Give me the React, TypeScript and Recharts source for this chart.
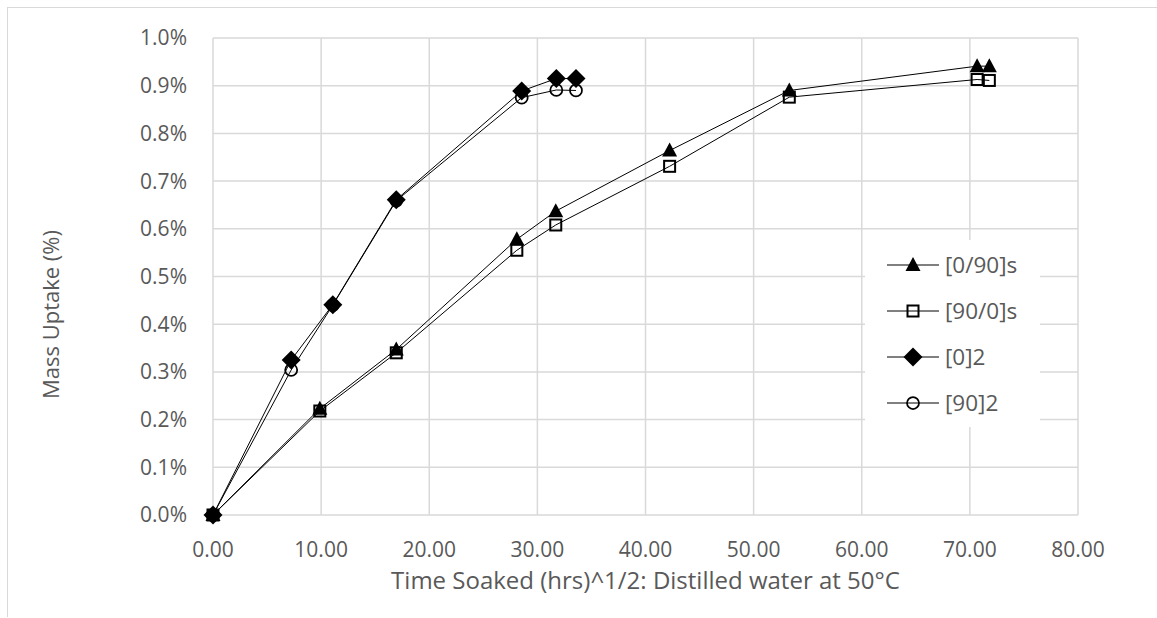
import React from 'react';
import { ScatterChart, Scatter, XAxis, YAxis, CartesianGrid, Legend, Label } from 'recharts';

// Laminate series time points (hrs^1/2)
const timeLaminate = [0, 9.88, 16.95, 28.1, 31.7, 42.23, 53.3, 70.67, 71.8];
const uptake090s = [0, 0.223, 0.347, 0.578, 0.637, 0.764, 0.89, 0.941, 0.941];
const uptake900s = [0, 0.218, 0.34, 0.555, 0.608, 0.731, 0.876, 0.913, 0.911];

// Unidirectional series time points (hrs^1/2)
const timeUni = [0, 7.23, 11.08, 16.95, 28.55, 31.75, 33.57];
const uptake02 = [0, 0.325, 0.441, 0.661, 0.889, 0.915, 0.915];
const uptake902 = [0, 0.304, 0.44, 0.659, 0.875, 0.891, 0.89];

const seriesNames = ['[0/90]s', '[90/0]s', '[0]2', '[90]2'];
const xTicks = [0, 10, 20, 30, 40, 50, 60, 70, 80];
const yTicks = [0, 0.1, 0.2, 0.3, 0.4, 0.5, 0.6, 0.7, 0.8, 0.9, 1.0];

const xTitle = 'Time Soaked (hrs)^1/2: Distilled water at 50°C';
const yTitle = 'Mass Uptake (%)';

const FONT = '"Open Sans", "DejaVu Sans", sans-serif';
const TEXT = '#595959';
const GRID = '#d9d9d9';

const toPoints = (xs: number[], ys: number[]) => xs.map((x, i) => ({ x, y: ys[i] }));

const drawTriangle = (cx: number, cy: number) => (
  <polygon points={`${cx},${cy - 8} ${cx - 7.5},${cy + 6} ${cx + 7.5},${cy + 6}`} fill="#000" />
);
const drawSquare = (cx: number, cy: number) => (
  <rect x={cx - 5.5} y={cy - 5.5} width={11} height={11} fill="none" stroke="#000" strokeWidth={2} />
);
const drawDiamond = (cx: number, cy: number) => (
  <polygon points={`${cx},${cy - 9.5} ${cx + 9.5},${cy} ${cx},${cy + 9.5} ${cx - 9.5},${cy}`} fill="#000" />
);
const drawCircle = (cx: number, cy: number) => (
  <circle cx={cx} cy={cy} r={6} fill="none" stroke="#000" strokeWidth={1.75} />
);

const markers = [drawTriangle, drawSquare, drawDiamond, drawCircle];

const series = [
  { name: seriesNames[0], data: toPoints(timeLaminate, uptake090s), marker: drawTriangle },
  { name: seriesNames[1], data: toPoints(timeLaminate, uptake900s), marker: drawSquare },
  { name: seriesNames[2], data: toPoints(timeUni, uptake02), marker: drawDiamond },
  { name: seriesNames[3], data: toPoints(timeUni, uptake902), marker: drawCircle },
];

const LegendBox = () => (
  <div
    style={{
      background: '#fff',
      width: 175,
      height: 187,
      paddingTop: 2,
      boxSizing: 'border-box',
      fontFamily: FONT,
      fontSize: 22.5,
      color: TEXT,
    }}
  >
    {seriesNames.map((name, i) => (
      <div key={name} style={{ display: 'flex', alignItems: 'center', height: 46 }}>
        <svg width={74} height={46} style={{ display: 'block' }}>
          <line x1={22} x2={74} y1={23} y2={23} stroke="#000" strokeWidth={1} />
          {markers[i](48, 23)}
        </svg>
        <span style={{ marginLeft: 6, lineHeight: '46px' }}>{name}</span>
      </div>
    ))}
  </div>
);

export default function App() {
  return (
    <div
      style={{
        position: 'absolute',
        left: 7,
        top: 7,
        width: 1149,
        height: 609,
        borderTop: `1px solid ${GRID}`,
        borderLeft: `1px solid ${GRID}`,
        background: '#fff',
      }}
    >
      <ScatterChart width={1149} height={609} margin={{ top: 30, right: 79, bottom: 22, left: 0 }}>
        <CartesianGrid stroke={GRID} strokeWidth={1.5} horizontalValues={yTicks} verticalValues={xTicks} />
        <XAxis
          type="number"
          dataKey="x"
          domain={[0, 80]}
          ticks={xTicks}
          tickFormatter={(v: number) => v.toFixed(2)}
          axisLine={false}
          tickLine={false}
          tickMargin={21}
          height={80}
          interval={0}
          tick={{ fill: TEXT, fontSize: 21, fontFamily: FONT }}
        >
          <Label
            value={xTitle}
            position="insideBottom"
            offset={6}
            style={{ fill: TEXT, fontSize: 24, fontFamily: FONT }}
          />
        </XAxis>
        <YAxis
          type="number"
          dataKey="y"
          domain={[0, 1]}
          ticks={yTicks}
          tickFormatter={(v: number) => v.toFixed(1) + '%'}
          axisLine={false}
          tickLine={false}
          tickMargin={20}
          width={205}
          interval={0}
          tick={{ fill: TEXT, fontSize: 21, fontFamily: FONT }}
        >
          <Label
            content={(p: any) => {
              const vb = p.viewBox || { x: 0, y: 30, width: 205, height: 477 };
              const cx = vb.x + 42;
              const cy = vb.y + vb.height / 2 + 38;
              return (
                <text
                  x={cx}
                  y={cy}
                  transform={`rotate(-90 ${cx} ${cy})`}
                  textAnchor="middle"
                  dominantBaseline="central"
                  fill={TEXT}
                  fontSize={22}
                  fontFamily={FONT}
                >
                  {yTitle}
                </text>
              );
            }}
          />
        </YAxis>
        {series.map((s) => (
          <Scatter
            key={s.name}
            name={s.name}
            data={s.data}
            line={{ stroke: '#000', strokeWidth: 1 }}
            lineType="joint"
            isAnimationActive={false}
            shape={(props: any) => s.marker(props.cx, props.cy)}
          />
        ))}
        <Legend
          layout="vertical"
          align="center"
          verticalAlign="middle"
          content={() => <LegendBox />}
          wrapperStyle={{ left: 857, top: 232, width: 175, height: 187 }}
        />
      </ScatterChart>
    </div>
  );
}
